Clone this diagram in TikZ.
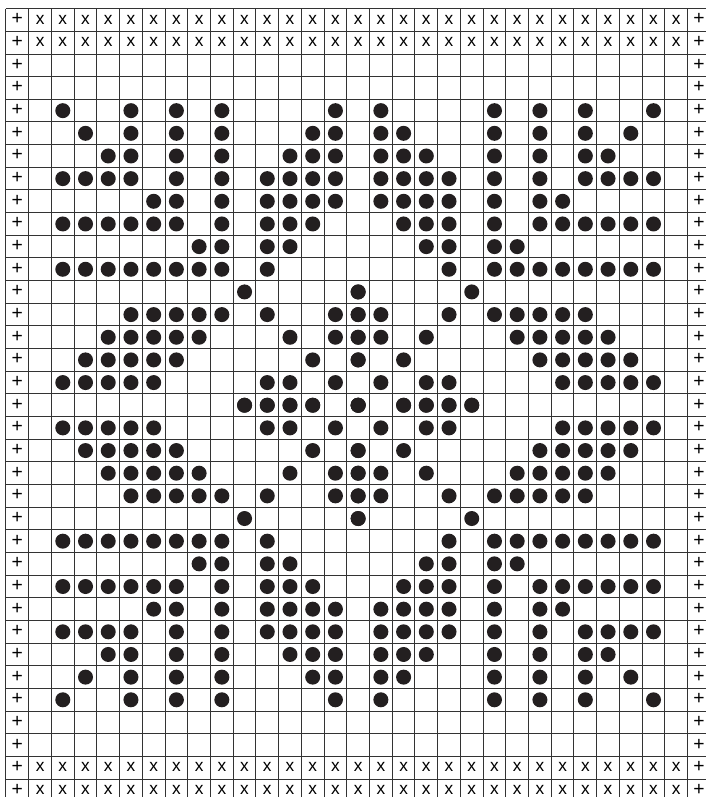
\documentclass[tikz,border=0pt]{standalone}
\usepackage{fontspec}
\setmainfont{Liberation Sans}
\definecolor{dotblack}{HTML}{231F20}
\begin{document}
\begin{tikzpicture}[x=0.6cm,y=0.5984cm,
  gridline/.style={line width=0.75pt,draw=black!80},
  sym/.style={font=\fontsize{13}{13}\selectfont,text=black,inner sep=0pt},
  plussym/.style={font=\fontsize{14.5}{14.5}\selectfont,text=black,inner sep=0pt}]
\useasboundingbox (-0.264,0.384) rectangle (30.81,-34.79);
\clip (-0.264,0.384) rectangle (30.81,-34.79);
\fill[white] (-0.264,0.384) rectangle (30.81,-34.79);
% grid
\foreach \i in {0,...,31} \draw[gridline] (\i,0) -- (\i,-35);
\foreach \j in {0,...,35} \draw[gridline] (0,-\j) -- (31,-\j);
% edge symbols
\foreach \r in {1,...,35} {
  \node[plussym] (pl\r) at (0.5,0.53-\r) {+};
  \node[plussym] (pr\r) at (30.5,0.53-\r) {+};
}
\foreach \r in {1,2,34,35} \foreach \c in {2,...,30}
  \node[sym] (x\r-\c) at (\c-0.5,0.52-\r) {x};
% dots (quarter pattern mirrored both ways)
\foreach \r/\cols in {
  5/{3,6,8,10,15},
  6/{4,6,8,10,14,15},
  7/{5,6,8,10,13,14,15},
  8/{3,4,5,6,8,10,12,13,14,15},
  9/{7,8,10,12,13,14,15},
  10/{3,4,5,6,7,8,10,12,13,14},
  11/{9,10,12,13},
  12/{3,4,5,6,7,8,9,10,12},
  13/{11,16},
  14/{6,7,8,9,10,12,15,16},
  15/{5,6,7,8,9,13,15,16},
  16/{4,5,6,7,8,14,16},
  17/{3,4,5,6,7,12,13,15},
  18/{11,12,13,14,16}} {
  \foreach \c in \cols {
    \fill[dotblack] (\c-0.5,0.5-\r) circle[x radius=0.33,y radius=0.331];
    \fill[dotblack] (31.5-\c,0.5-\r) circle[x radius=0.33,y radius=0.331];
    \fill[dotblack] (\c-0.5,\r-35.5) circle[x radius=0.33,y radius=0.331];
    \fill[dotblack] (31.5-\c,\r-35.5) circle[x radius=0.33,y radius=0.331];
  }
}
\end{tikzpicture}
\end{document}
